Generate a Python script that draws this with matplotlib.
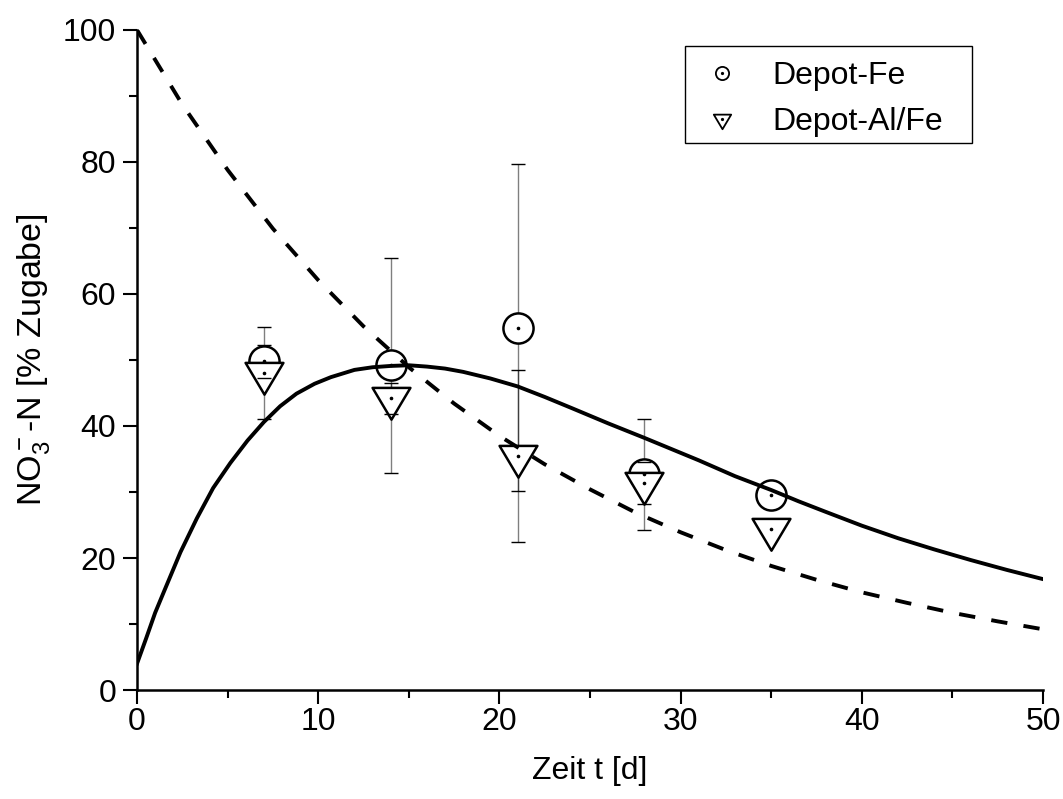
import numpy as np
import matplotlib
matplotlib.use('Agg')
import matplotlib.pyplot as plt
from matplotlib.path import Path
from matplotlib.lines import Line2D
from matplotlib.patches import Rectangle

# Messwerte (Mittelwert und Fehler)
t = [7, 14, 21, 28, 35]
fe = [49.8, 49.2, 54.9, 32.7, 29.5]
fe_err = [2.5, 16.3, 24.8, 8.4, 0]
alfe = [48.0, 44.2, 35.5, 31.4, 24.4]
alfe_err = [7.0, 2.35, 13.0, 3.2, 0]

# Modellkurven
t_solid = [0, 0.5, 1.0, 1.5, 2.4, 3.3, 4.2, 5.15, 6.1, 7.0, 7.9, 8.8, 9.8, 10.7,
           12, 13, 14, 15, 16, 17, 18, 19.5, 21, 22.5, 24, 26, 28, 29.5, 31, 33,
           35, 36.5, 38, 40, 42, 44, 46, 48, 50]
y_solid = [4.0, 7.8, 11.7, 15.0, 20.9, 26.0, 30.6, 34.4, 37.8, 40.6, 43.0, 44.9,
           46.4, 47.4, 48.5, 48.9, 49.1, 49.2, 49.0, 48.7, 48.2, 47.2, 46.0, 44.4,
           42.7, 40.4, 38.2, 36.5, 34.8, 32.4, 30.3, 28.6, 27.0, 24.9, 23.0, 21.3,
           19.7, 18.2, 16.8]
t_dash = [0, 2.5, 5, 7.5, 10, 12.5, 15, 17.5, 20, 22.5, 25, 27.5, 30, 32.5, 35,
          37.5, 40, 42.5, 45, 47.5, 50]
y_dash = [100, 88.7, 78.8, 69.9, 62.1, 55.1, 48.9, 43.4, 38.5, 34.2, 30.4, 26.9, 23.9,
          21.2, 18.8, 16.7, 14.8, 13.2, 11.7, 10.4, 9.2]

plt.rcParams['font.family'] = ['Liberation Sans', 'DejaVu Sans']
plt.rcParams['mathtext.fontset'] = 'custom'
plt.rcParams['mathtext.rm'] = 'Liberation Sans'
plt.rcParams['mathtext.it'] = 'Liberation Sans:italic'
fs = 23

# Dreieck mit Schwerpunkt im Datenpunkt
tri = Path([(-1, 0.56), (1, 0.56), (0, -1.12), (-1, 0.56)], closed=True)

fig = plt.figure(figsize=(10.63, 7.99), dpi=100)
ax = fig.add_axes([0.1289, 0.1364, 0.8523, 0.8261])

ax.errorbar(t, fe, yerr=fe_err, fmt='none', ecolor='black', alpha=0.5,
            elinewidth=1.0, capsize=0, zorder=2)
ax.errorbar(t, alfe, yerr=alfe_err, fmt='none', ecolor='black', alpha=0.5,
            elinewidth=1.0, capsize=0, zorder=2)

ax.plot(t, fe, linestyle='none', marker='o', ms=21.7, mfc='white', mec='black',
        mew=1.8, zorder=3)
ax.plot(t, alfe, linestyle='none', marker=tri, ms=30.5, mfc='white', mec='black',
        mew=1.8, zorder=4)

ax.plot(t_solid, y_solid, color='black', lw=2.8, zorder=5)
ax.plot(t_dash, y_dash, color='black', lw=2.8, dashes=(4.2, 4.2), zorder=5)

# Fehlerbalken-Kappen
for y, e in [(fe, fe_err), (alfe, alfe_err)]:
    y = np.array(y)
    e = np.array(e)
    m = e > 0
    tt = np.array(t)[m]
    ax.plot(tt, y[m] + e[m], linestyle='none', marker='_', ms=9.4, mew=1.0,
            color='black', zorder=6)
    ax.plot(tt, y[m] - e[m], linestyle='none', marker='_', ms=9.4, mew=1.0,
            color='black', zorder=6)

ax.plot(t, fe, linestyle='none', marker='o', ms=1.6, color='black', zorder=7)
ax.plot(t, alfe, linestyle='none', marker='o', ms=1.6, color='black', zorder=7)

ax.set_xlim(0, 50)
ax.set_ylim(0, 100)
ax.set_xticks(range(0, 51, 10))
ax.set_xticks(range(5, 50, 10), minor=True)
ax.set_yticks(range(0, 101, 20))
ax.set_yticks(range(10, 100, 20), minor=True)
for s in ['top', 'right']:
    ax.spines[s].set_visible(False)
for s in ['left', 'bottom']:
    ax.spines[s].set_linewidth(1.8)
ax.tick_params(which='major', direction='out', length=10, width=1.5,
               labelsize=fs, pad=5)
ax.tick_params(axis='x', which='major', pad=2)
ax.tick_params(which='minor', direction='out', length=5.8, width=1.5)

ax.set_xlabel('Zeit t [d]', fontsize=fs, labelpad=14)
ax.set_ylabel(r'NO$_3^-$-N [% Zugabe]', fontsize=24.5, labelpad=8)

# Legendenrahmen
ax.add_patch(Rectangle((0.605, 0.829), 0.3166, 0.1468, transform=ax.transAxes,
                       facecolor='white', edgecolor='black', lw=1.0, zorder=8,
                       clip_on=False))
h1 = (Line2D([], [], linestyle='none', marker='o', ms=9.5, mfc='white', mec='black', mew=1.3),
      Line2D([], [], linestyle='none', marker='o', ms=1.3, color='black'))
h2 = (Line2D([], [], linestyle='none', marker=tri, ms=14, mfc='white', mec='black', mew=1.3),
      Line2D([], [], linestyle='none', marker='o', ms=1.3, color='black'))
leg = ax.legend([h1, h2], ['Depot-Fe', 'Depot-Al/Fe'], loc='upper left',
                bbox_to_anchor=(0.628, 0.953), borderaxespad=0, borderpad=0,
                fontsize=fs, frameon=False, handlelength=1.0,
                handletextpad=1.07, labelspacing=0.5)
leg.set_zorder(9)

fig.savefig('out.png', dpi=100)
